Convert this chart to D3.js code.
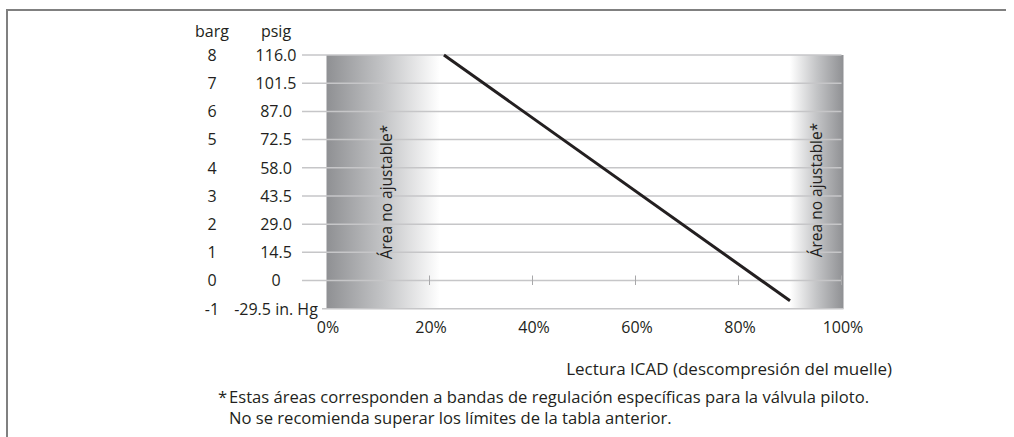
<!DOCTYPE html>
<html><head><meta charset="utf-8">
<script src="https://cdn.jsdelivr.net/npm/d3@7"></script>
<style>
html,body{margin:0;padding:0;background:#fff;}
svg text{font-family:"Open Sans",sans-serif;fill:#231f20;}
</style></head>
<body>
<svg id="c" width="1014" height="437"></svg>
<script>
// ---- data ----
const bargTicks = [-1, 0, 1, 2, 3, 4, 5, 6, 7, 8];
const psigLabels = ["-29.5 in. Hg", "0", "14.5", "29.0", "43.5", "58.0", "72.5", "87.0", "101.5", "116.0"];
const xTicks = [0, 20, 40, 60, 80, 100];
const xTickLabels = ["0%", "20%", "40%", "60%", "80%", "100%"];
const lineX = [22.8, 90.0];      // Lectura ICAD (%)
const lineY = [8, -0.72];        // barg
const bandsX = [[0, 22], [90, 100]];  // non-adjustable areas (%), gradient to white
const xTitle = "Lectura ICAD (descompresión del muelle)";
const note1 = "Estas áreas corresponden a bandas de regulación específicas para la válvula piloto.";
const note2 = "No se recomienda superar los límites de la tabla anterior.";
const bandLabel = "Área no ajustable*";

const svg = d3.select("#c");
const x = d3.scaleLinear().domain([0, 100]).range([326.5, 841.5]);
const y = d3.scaleLinear().domain([-1, 8]).range([308.7, 55]);

// frame
svg.append("path").attr("d", "M7,437 V10 H1006").attr("fill", "none")
  .attr("stroke", "#808080").attr("stroke-width", 2);

// gradients
const defs = svg.append("defs");
const gL = defs.append("linearGradient").attr("id", "gL").attr("x1", "0").attr("x2", "1").attr("y1", "0").attr("y2", "0");
gL.append("stop").attr("offset", "0").attr("stop-color", "#8f9093");
gL.append("stop").attr("offset", "0.5").attr("stop-color", "#c3c4c6");
gL.append("stop").attr("offset", "1").attr("stop-color", "#ffffff");
const gR = defs.append("linearGradient").attr("id", "gR").attr("x1", "0").attr("x2", "1").attr("y1", "0").attr("y2", "0");
gR.append("stop").attr("offset", "0").attr("stop-color", "#ffffff");
gR.append("stop").attr("offset", "0.5").attr("stop-color", "#c3c4c6");
gR.append("stop").attr("offset", "1").attr("stop-color", "#8f9093");

svg.append("rect").attr("x", x(bandsX[0][0])).attr("y", y(8))
  .attr("width", x(bandsX[0][1]) - x(bandsX[0][0])).attr("height", y(-1) - y(8)).attr("fill", "url(#gL)");
svg.append("rect").attr("x", x(bandsX[1][0])).attr("y", y(8))
  .attr("width", x(bandsX[1][1]) - x(bandsX[1][0]) + 2).attr("height", y(-1) - y(8)).attr("fill", "url(#gR)");

// gridlines
svg.append("g").selectAll("line").data(bargTicks.filter(d => d >= 0)).join("line")
  .attr("x1", 302).attr("x2", x(100)).attr("y1", d => y(d)).attr("y2", d => y(d))
  .attr("stroke", "#c6c6c8").attr("stroke-width", 1.5);
// bottom axis line
svg.append("line").attr("x1", 322).attr("x2", x(100) + 2).attr("y1", y(-1)).attr("y2", y(-1))
  .attr("stroke", "#c6c6c8").attr("stroke-width", 1.5);
// x ticks on zero line
svg.append("g").selectAll("line").data(xTicks.filter(d => d > 0)).join("line")
  .attr("x1", d => x(d)).attr("x2", d => x(d)).attr("y1", y(0) - 5).attr("y2", y(0) + 4.5)
  .attr("stroke", "#a8a8aa").attr("stroke-width", 1);

// band labels
[[392, 192], [822, 190]].forEach(p => {
  svg.append("text").attr("transform", `translate(${p[0]},${p[1]}) rotate(-90)`)
    .attr("text-anchor", "middle").attr("font-size", 15.5).text(bandLabel);
});

// line
svg.append("path").datum(lineX.map((v, i) => [v, lineY[i]]))
  .attr("d", d3.line().x(d => x(d[0])).y(d => y(d[1])))
  .attr("fill", "none").attr("stroke", "#231f20").attr("stroke-width", 3);

// y labels
const fs = 16;
svg.append("text").attr("x", 212).attr("y", 37).attr("text-anchor", "middle").attr("font-size", fs).text("barg");
svg.append("text").attr("x", 276).attr("y", 37).attr("text-anchor", "middle").attr("font-size", fs).text("psig");
svg.append("g").selectAll("text").data(bargTicks).join("text")
  .attr("x", 212).attr("y", d => y(d) + 5.8).attr("text-anchor", "middle").attr("font-size", fs).text(d => d);
svg.append("g").selectAll("text").data(bargTicks).join("text")
  .attr("x", 276).attr("y", d => y(d) + 5.8).attr("text-anchor", "middle").attr("font-size", fs)
  .text((d, i) => psigLabels[i]);

// x labels
svg.append("g").selectAll("text").data(xTicks).join("text")
  .attr("x", d => x(d) + 1.5).attr("y", 333).attr("text-anchor", "middle").attr("font-size", fs)
  .text((d, i) => xTickLabels[i]);

svg.append("text").attr("x", 892).attr("y", 375).attr("text-anchor", "end").attr("font-size", 17).text(xTitle);
svg.append("text").attr("x", 218).attr("y", 403).attr("font-size", 16.6).text("*");
svg.append("text").attr("x", 229).attr("y", 403).attr("font-size", 16.6).text(note1);
svg.append("text").attr("x", 229).attr("y", 424).attr("font-size", 16.6).text(note2);
</script>
</body></html>
